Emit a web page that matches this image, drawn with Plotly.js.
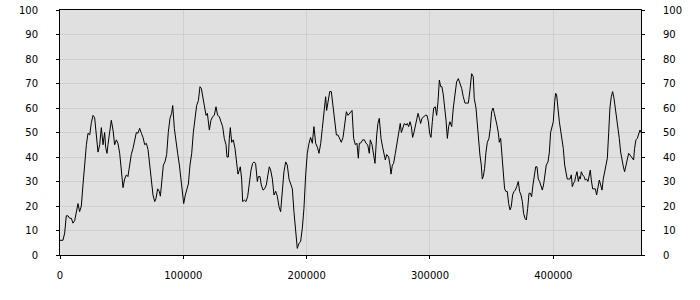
<!DOCTYPE html>
<html><head><meta charset="utf-8">
<script src="https://cdn.plot.ly/plotly-3.0.1.min.js"></script>
<style>html,body{margin:0;padding:0;background:#fff}#c{width:700px;height:300px}</style>
</head><body><div id="c"></div>
<script>
const xValues = [0,2400,3800,5100,6500,7800,9200,10500,11900,13200,14600,15900,17300,18700,20000,21400,22700,24100,25400,26800,28100,29500,30800,32200,33500,34900,36200,37000,38100,38900,40300,41600,43000,44300,45700,47000,48400,49700,51100,52400,53800,55100,56500,57800,59200,60500,61900,63200,64600,66000,67300,68700,70000,71400,72700,74100,75400,76800,
77800,79200,80500,81400,82700,83800,85100,86500,87800,89200,90500,91400,92700,94100,95400,96800,98100,99500,100300,101600,103000,104100,105400,106800,108100,109500,110800,112200,113500,114600,115700,117000,118400,119500,120500,121100,122400,123800,125100,126500,127800,129200,130500,131900,133200,134600,135400,136500,137300,138100,139200,140500,141900,143300,144300,145400,146200,147300,148100,149500,150800,152200,153500,154900,156200,157300,
158600,160000,160800,162200,163200,164600,165900,167300,168600,169700,170800,172200,173500,174900,176200,177600,178900,180300,181600,183000,184300,185700,187000,188400,189700,191100,192400,193800,195100,196500,197800,199200,200500,201900,203200,204600,205900,207300,208700,210000,211400,212700,214100,215400,216200,217300,218700,220000,221400,222700,224100,225400,226800,228100,229500,230800,232200,233500,234900,236800,
238100,239500,240800,241900,242700,244100,245400,246800,248100,249500,250800,251600,253000,254300,255400,256800,257800,258900,260300,261600,263000,263800,264900,266500,267600,268400,269500,270500,271900,273200,274600,275900,276800,277800,279200,280500,281600,282700,283800,284900,285900,287000,288100,289200,290300,291400,292400,293500,294900,296200,297600,298700,299700,300800,301900,303000,304300,305400,306500,307600,308700,309700,310800,311900,313000,314100,315100,316200,
317600,318900,320300,321600,323000,324300,325700,327000,328400,329700,331100,332400,333800,335100,335900,337300,338400,339500,340500,341600,342400,343200,344300,345400,346500,347800,348900,350000,351100,352200,353200,354300,355400,356200,357300,358400,359500,360500,361600,362700,363800,364900,365900,367000,368100,369200,370300,371600,372700,373800,374900,375900,377000,378100,379200,380300,381400,382400,383500,384600,385700,386800,387800,388900,390000,391100,392200,393200,394300,395700,
396800,397800,398900,400000,401100,401900,402700,403800,404900,405900,407000,408100,409200,410300,411300,412400,413500,414600,415400,416200,417300,418100,419200,420300,421100,421900,422700,423800,424900,425900,427000,428100,429200,430000,430800,431900,433000,434100,435100,436200,437300,438400,439500,440500,441600,442700,443800,444900,445900,447000,448100,449200,450300,451400,452400,453500,454600,455700,456800,457800,458900,460000,461100,462200,463200,464300,465100,465900,467000,468100,469200,470300,471100];

const yValues = [6,6,9,16,16,15,15,13,14,18,21,17.7,20,29,38,45,49.7,49,54,57,56,50,42,45,52,45,50,44,41.5,45,50,55,51,45,47,45.6,41.5,35,27.5,31,32.7,32,38,41,43.5,47,50,49.7,51.7,49.7,48,45,45.6,43,36.7,31,24.5,21.8,
23,27,26,24,32.7,36.7,38,41,50,55.8,57.8,61,51.7,45,41.5,36.7,30,22.4,21,24.5,27,29,36.7,41.5,50,57,61,63,68.7,68,64.6,60,57,57.8,53.7,51,55,56.5,57,60.5,57,56.5,54.4,52.4,47.6,45,40,40,47.6,52,46,47,43.5,36.7,33,34.7,36,31,21.8,22.4,21.8,24,30,34.7,37.4,38,
37.4,30,32,32,28.6,26.5,27,28.6,32.7,36,34.7,31,24.5,26,24,19.7,17.7,26,34,38,36.7,31,29,27,17.7,8,2.7,4.8,5.4,11,19,32.7,41.5,45.6,48,45.6,52.4,45.6,44,41.5,45.6,51.7,60,64.6,59,62.6,66.7,66.7,60,55,49,49,47.6,46,48,53,58.5,57,57.8,59,
47.6,45,45.6,39.5,45.6,45.8,47,47,45.6,45,41.5,47,45,39.5,37.4,49,53.7,55.8,47.6,44,39.5,38.8,41,40,36.7,33,36.7,37.4,41.5,46,50,53.7,50,51.7,53.7,53,53.7,52.4,54.4,52.4,48,50,52.4,55,57.8,55.8,53.7,55.8,56.5,57,57,54.4,49.7,48,54.4,60,60.5,57,62.6,71.4,68.7,68.7,65.3,60.5,55,47.6,52.4,54.4,
52.4,60,66.7,70.7,72,70,68,64.6,62,62,62,67.3,74,72.8,63.9,60,53,46,40.8,36.7,31,32,35.4,42,46,47.6,51.7,58.5,60,57.8,55.8,53,50,46,47.6,40.8,34,27,25.9,25.9,21,18.4,19.7,24.5,25.9,26.5,27.9,30,25.9,24.5,21.8,17,15,14.3,19,25.2,25.2,23.8,28.6,32,36,36,31,30,27.9,26.5,29,34,36.7,38,
42,50,53,54.4,62.6,66,65.3,59,54.4,51,48,43.5,36.7,33,31,31,31,32.7,27.9,29,30,32,34,30,32,31,34,32.7,32,30.6,31,30,32.7,34.7,30.6,27,27,27,24.5,27,30.6,28.6,26.5,31,34,35.4,39.5,50,60,64.6,66.7,64,60,57,53.7,47.6,42,38,36,34,36.7,39.5,41.5,40.8,40,39.5,38.8,43.5,47,47.6,49,51,50];

const yTicks = [0,10,20,30,40,50,60,70,80,90,100];
const xTicks = [0,100000,200000,300000,400000];

const font = {family: 'DejaVu Sans, Verdana, sans-serif', size: 10, color: '#000'};
const common = {
  range: [0, 100], tickvals: yTicks, ticks: 'outside', ticklen: 3, tickcolor: '#000',
  showline: true, linecolor: '#000', linewidth: 1, tickfont: font, zeroline: false,
  ticklabelstandoff: 16
};

Plotly.newPlot('c', [{
  x: xValues, y: yValues, type: 'scatter', mode: 'lines',
  line: {color: '#000', width: 1}, hoverinfo: 'skip'
}, {
  x: [xValues[0]], y: [yValues[0]], yaxis: 'y2', type: 'scatter', mode: 'markers',
  marker: {opacity: 0, size: 1}, hoverinfo: 'skip'
}], {
  width: 700, height: 300,
  margin: {l: 60, r: 59, t: 10, b: 45, pad: 0},
  paper_bgcolor: '#fff', plot_bgcolor: '#e0e0e0',
  showlegend: false, font: font,
  xaxis: {range: [0, 471100], tickvals: xTicks, tickformat: 'd', ticks: 'outside', ticklen: 3,
    tickcolor: '#000', showline: true, mirror: true, linecolor: '#000', linewidth: 1,
    showgrid: true, gridcolor: '#cfcfcf', zeroline: false, tickfont: font, ticklabelstandoff: 8},
  yaxis: Object.assign({}, common, {side: 'left', showgrid: true, gridcolor: '#cfcfcf', mirror: true}),
  yaxis2: Object.assign({}, common, {side: 'right', overlaying: 'y', showgrid: false})
}, {displayModeBar: false, staticPlot: true});
</script></body></html>
